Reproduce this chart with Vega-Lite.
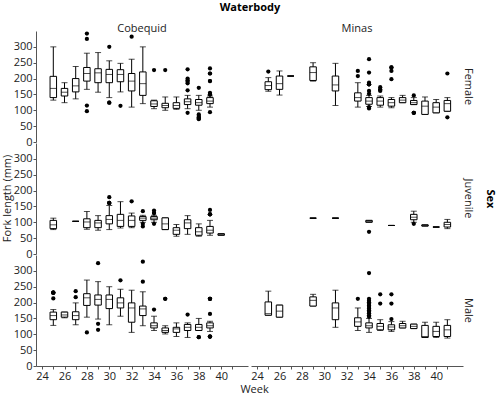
{
"$schema": "https://vega.github.io/schema/vega-lite/v6.json",
"background": "white",
"padding": {"left": 2, "top": 2, "right": 2, "bottom": 0},
"title": {"text": "Fork length (mm)", "orient": "left", "anchor": "middle", "fontSize": 11, "fontWeight": "normal", "color": "#222", "offset": 0},
"vconcat": [{
"title": {"text": "Week", "orient": "bottom", "anchor": "middle", "fontSize": 11, "fontWeight": "normal", "color": "#222", "offset": 3},
"data": {"values": [
{"t":"box","Waterbody":"Cobequid","Sex":"Female","Week":25,"lo":132,"q1":140,"med":169,"q3":207,"hi":300},
{"t":"box","Waterbody":"Cobequid","Sex":"Female","Week":26,"lo":124,"q1":145,"med":157,"q3":169,"hi":187},
{"t":"box","Waterbody":"Cobequid","Sex":"Female","Week":27,"lo":136,"q1":158,"med":177,"q3":200,"hi":238},
{"t":"box","Waterbody":"Cobequid","Sex":"Female","Week":28,"lo":166,"q1":192,"med":216,"q3":235,"hi":280},
{"t":"box","Waterbody":"Cobequid","Sex":"Female","Week":29,"lo":157,"q1":187,"med":218,"q3":231,"hi":282},
{"t":"box","Waterbody":"Cobequid","Sex":"Female","Week":30,"lo":140,"q1":187,"med":213,"q3":229,"hi":256},
{"t":"box","Waterbody":"Cobequid","Sex":"Female","Week":31,"lo":158,"q1":190,"med":213,"q3":228,"hi":248},
{"t":"box","Waterbody":"Cobequid","Sex":"Female","Week":32,"lo":110,"q1":161,"med":192,"q3":216,"hi":261},
{"t":"box","Waterbody":"Cobequid","Sex":"Female","Week":33,"lo":121,"q1":147,"med":184,"q3":221,"hi":300},
{"t":"box","Waterbody":"Cobequid","Sex":"Female","Week":34,"lo":105,"q1":112,"med":120,"q3":130,"hi":132},
{"t":"box","Waterbody":"Cobequid","Sex":"Female","Week":35,"lo":100,"q1":108,"med":115,"q3":122,"hi":142},
{"t":"box","Waterbody":"Cobequid","Sex":"Female","Week":36,"lo":103,"q1":106,"med":115,"q3":124,"hi":142},
{"t":"box","Waterbody":"Cobequid","Sex":"Female","Week":37,"lo":105,"q1":118,"med":127,"q3":136,"hi":147},
{"t":"box","Waterbody":"Cobequid","Sex":"Female","Week":38,"lo":100,"q1":116,"med":124,"q3":134,"hi":147},
{"t":"box","Waterbody":"Cobequid","Sex":"Female","Week":39,"lo":110,"q1":121,"med":129,"q3":140,"hi":145},
{"t":"out","Waterbody":"Cobequid","Sex":"Female","Week":28,"v":342},
{"t":"out","Waterbody":"Cobequid","Sex":"Female","Week":28,"v":325},
{"t":"out","Waterbody":"Cobequid","Sex":"Female","Week":28,"v":115},
{"t":"out","Waterbody":"Cobequid","Sex":"Female","Week":28,"v":97},
{"t":"out","Waterbody":"Cobequid","Sex":"Female","Week":30,"v":300},
{"t":"out","Waterbody":"Cobequid","Sex":"Female","Week":30,"v":124},
{"t":"out","Waterbody":"Cobequid","Sex":"Female","Week":30,"v":124},
{"t":"out","Waterbody":"Cobequid","Sex":"Female","Week":31,"v":114},
{"t":"out","Waterbody":"Cobequid","Sex":"Female","Week":32,"v":332},
{"t":"out","Waterbody":"Cobequid","Sex":"Female","Week":34,"v":227},
{"t":"out","Waterbody":"Cobequid","Sex":"Female","Week":35,"v":227},
{"t":"out","Waterbody":"Cobequid","Sex":"Female","Week":37,"v":229},
{"t":"out","Waterbody":"Cobequid","Sex":"Female","Week":37,"v":200},
{"t":"out","Waterbody":"Cobequid","Sex":"Female","Week":37,"v":195},
{"t":"out","Waterbody":"Cobequid","Sex":"Female","Week":37,"v":190},
{"t":"out","Waterbody":"Cobequid","Sex":"Female","Week":37,"v":185},
{"t":"out","Waterbody":"Cobequid","Sex":"Female","Week":37,"v":163},
{"t":"out","Waterbody":"Cobequid","Sex":"Female","Week":37,"v":92},
{"t":"out","Waterbody":"Cobequid","Sex":"Female","Week":38,"v":171},
{"t":"out","Waterbody":"Cobequid","Sex":"Female","Week":38,"v":87},
{"t":"out","Waterbody":"Cobequid","Sex":"Female","Week":38,"v":82},
{"t":"out","Waterbody":"Cobequid","Sex":"Female","Week":38,"v":78},
{"t":"out","Waterbody":"Cobequid","Sex":"Female","Week":38,"v":75},
{"t":"out","Waterbody":"Cobequid","Sex":"Female","Week":38,"v":72},
{"t":"out","Waterbody":"Cobequid","Sex":"Female","Week":39,"v":232},
{"t":"out","Waterbody":"Cobequid","Sex":"Female","Week":39,"v":216},
{"t":"out","Waterbody":"Cobequid","Sex":"Female","Week":39,"v":216},
{"t":"out","Waterbody":"Cobequid","Sex":"Female","Week":39,"v":192},
{"t":"out","Waterbody":"Cobequid","Sex":"Female","Week":39,"v":192},
{"t":"out","Waterbody":"Cobequid","Sex":"Female","Week":39,"v":155},
{"t":"out","Waterbody":"Cobequid","Sex":"Female","Week":39,"v":150},
{"t":"out","Waterbody":"Cobequid","Sex":"Female","Week":39,"v":150},
{"t":"out","Waterbody":"Cobequid","Sex":"Female","Week":39,"v":94},
{"t":"box","Waterbody":"Minas","Sex":"Female","Week":25,"lo":160,"q1":165,"med":178,"q3":190,"hi":203},
{"t":"box","Waterbody":"Minas","Sex":"Female","Week":26,"lo":148,"q1":166,"med":184,"q3":208,"hi":224},
{"t":"box","Waterbody":"Minas","Sex":"Female","Week":27,"lo":208,"q1":208,"med":208,"q3":208,"hi":208},
{"t":"box","Waterbody":"Minas","Sex":"Female","Week":29,"lo":192,"q1":194,"med":219,"q3":237,"hi":250},
{"t":"box","Waterbody":"Minas","Sex":"Female","Week":31,"lo":115,"q1":161,"med":180,"q3":208,"hi":248},
{"t":"box","Waterbody":"Minas","Sex":"Female","Week":33,"lo":110,"q1":129,"med":140,"q3":155,"hi":187},
{"t":"box","Waterbody":"Minas","Sex":"Female","Week":34,"lo":112,"q1":119,"med":129,"q3":140,"hi":147},
{"t":"box","Waterbody":"Minas","Sex":"Female","Week":35,"lo":110,"q1":116,"med":129,"q3":140,"hi":145},
{"t":"box","Waterbody":"Minas","Sex":"Female","Week":36,"lo":108,"q1":113,"med":124,"q3":134,"hi":140},
{"t":"box","Waterbody":"Minas","Sex":"Female","Week":37,"lo":124,"q1":124,"med":132,"q3":140,"hi":147},
{"t":"box","Waterbody":"Minas","Sex":"Female","Week":38,"lo":118,"q1":118,"med":124,"q3":131,"hi":140},
{"t":"box","Waterbody":"Minas","Sex":"Female","Week":39,"lo":87,"q1":87,"med":113,"q3":129,"hi":142},
{"t":"box","Waterbody":"Minas","Sex":"Female","Week":40,"lo":92,"q1":92,"med":110,"q3":124,"hi":134},
{"t":"box","Waterbody":"Minas","Sex":"Female","Week":41,"lo":97,"q1":97,"med":121,"q3":131,"hi":140},
{"t":"out","Waterbody":"Minas","Sex":"Female","Week":25,"v":222},
{"t":"out","Waterbody":"Minas","Sex":"Female","Week":33,"v":224},
{"t":"out","Waterbody":"Minas","Sex":"Female","Week":33,"v":208},
{"t":"out","Waterbody":"Minas","Sex":"Female","Week":34,"v":261},
{"t":"out","Waterbody":"Minas","Sex":"Female","Week":34,"v":219},
{"t":"out","Waterbody":"Minas","Sex":"Female","Week":34,"v":187},
{"t":"out","Waterbody":"Minas","Sex":"Female","Week":34,"v":182},
{"t":"out","Waterbody":"Minas","Sex":"Female","Week":34,"v":182},
{"t":"out","Waterbody":"Minas","Sex":"Female","Week":34,"v":182},
{"t":"out","Waterbody":"Minas","Sex":"Female","Week":34,"v":161},
{"t":"out","Waterbody":"Minas","Sex":"Female","Week":34,"v":152},
{"t":"out","Waterbody":"Minas","Sex":"Female","Week":34,"v":110},
{"t":"out","Waterbody":"Minas","Sex":"Female","Week":34,"v":106},
{"t":"out","Waterbody":"Minas","Sex":"Female","Week":35,"v":173},
{"t":"out","Waterbody":"Minas","Sex":"Female","Week":35,"v":165},
{"t":"out","Waterbody":"Minas","Sex":"Female","Week":35,"v":165},
{"t":"out","Waterbody":"Minas","Sex":"Female","Week":35,"v":161},
{"t":"out","Waterbody":"Minas","Sex":"Female","Week":36,"v":235},
{"t":"out","Waterbody":"Minas","Sex":"Female","Week":36,"v":235},
{"t":"out","Waterbody":"Minas","Sex":"Female","Week":36,"v":224},
{"t":"out","Waterbody":"Minas","Sex":"Female","Week":36,"v":198},
{"t":"out","Waterbody":"Minas","Sex":"Female","Week":38,"v":147},
{"t":"out","Waterbody":"Minas","Sex":"Female","Week":38,"v":92},
{"t":"out","Waterbody":"Minas","Sex":"Female","Week":38,"v":92},
{"t":"out","Waterbody":"Minas","Sex":"Female","Week":38,"v":92},
{"t":"out","Waterbody":"Minas","Sex":"Female","Week":41,"v":216},
{"t":"out","Waterbody":"Minas","Sex":"Female","Week":41,"v":78},
{"t":"box","Waterbody":"Cobequid","Sex":"Juvenile","Week":25,"lo":77,"q1":80,"med":92,"q3":106,"hi":113},
{"t":"box","Waterbody":"Cobequid","Sex":"Juvenile","Week":27,"lo":103,"q1":103,"med":103,"q3":103,"hi":103},
{"t":"box","Waterbody":"Cobequid","Sex":"Juvenile","Week":28,"lo":78,"q1":83,"med":101,"q3":111,"hi":134},
{"t":"box","Waterbody":"Cobequid","Sex":"Juvenile","Week":29,"lo":75,"q1":83,"med":98,"q3":106,"hi":121},
{"t":"box","Waterbody":"Cobequid","Sex":"Juvenile","Week":30,"lo":77,"q1":95,"med":109,"q3":121,"hi":153},
{"t":"box","Waterbody":"Cobequid","Sex":"Juvenile","Week":31,"lo":82,"q1":87,"med":106,"q3":125,"hi":165},
{"t":"box","Waterbody":"Cobequid","Sex":"Juvenile","Week":32,"lo":83,"q1":87,"med":106,"q3":120,"hi":129},
{"t":"box","Waterbody":"Cobequid","Sex":"Juvenile","Week":33,"lo":100,"q1":106,"med":113,"q3":118,"hi":122},
{"t":"box","Waterbody":"Cobequid","Sex":"Juvenile","Week":34,"lo":100,"q1":108,"med":113,"q3":118,"hi":122},
{"t":"box","Waterbody":"Cobequid","Sex":"Juvenile","Week":35,"lo":77,"q1":77,"med":95,"q3":114,"hi":114},
{"t":"box","Waterbody":"Cobequid","Sex":"Juvenile","Week":36,"lo":56,"q1":62,"med":75,"q3":83,"hi":93},
{"t":"box","Waterbody":"Cobequid","Sex":"Juvenile","Week":37,"lo":62,"q1":80,"med":98,"q3":108,"hi":121},
{"t":"box","Waterbody":"Cobequid","Sex":"Juvenile","Week":38,"lo":56,"q1":59,"med":70,"q3":83,"hi":95},
{"t":"box","Waterbody":"Cobequid","Sex":"Juvenile","Week":39,"lo":59,"q1":66,"med":75,"q3":87,"hi":106},
{"t":"box","Waterbody":"Cobequid","Sex":"Juvenile","Week":40,"lo":59,"q1":59,"med":62,"q3":64,"hi":64},
{"t":"out","Waterbody":"Cobequid","Sex":"Juvenile","Week":30,"v":179},
{"t":"out","Waterbody":"Cobequid","Sex":"Juvenile","Week":30,"v":161},
{"t":"out","Waterbody":"Cobequid","Sex":"Juvenile","Week":30,"v":161},
{"t":"out","Waterbody":"Cobequid","Sex":"Juvenile","Week":30,"v":161},
{"t":"out","Waterbody":"Cobequid","Sex":"Juvenile","Week":32,"v":166},
{"t":"out","Waterbody":"Cobequid","Sex":"Juvenile","Week":33,"v":135},
{"t":"out","Waterbody":"Cobequid","Sex":"Juvenile","Week":33,"v":95},
{"t":"out","Waterbody":"Cobequid","Sex":"Juvenile","Week":33,"v":87},
{"t":"out","Waterbody":"Cobequid","Sex":"Juvenile","Week":34,"v":137},
{"t":"out","Waterbody":"Cobequid","Sex":"Juvenile","Week":34,"v":129},
{"t":"out","Waterbody":"Cobequid","Sex":"Juvenile","Week":34,"v":129},
{"t":"out","Waterbody":"Cobequid","Sex":"Juvenile","Week":34,"v":95},
{"t":"out","Waterbody":"Cobequid","Sex":"Juvenile","Week":39,"v":139},
{"t":"out","Waterbody":"Cobequid","Sex":"Juvenile","Week":39,"v":125},
{"t":"out","Waterbody":"Cobequid","Sex":"Juvenile","Week":39,"v":125},
{"t":"out","Waterbody":"Cobequid","Sex":"Juvenile","Week":39,"v":125},
{"t":"box","Waterbody":"Minas","Sex":"Juvenile","Week":29,"lo":113,"q1":113,"med":113,"q3":113,"hi":113},
{"t":"box","Waterbody":"Minas","Sex":"Juvenile","Week":31,"lo":113,"q1":113,"med":113,"q3":113,"hi":113},
{"t":"box","Waterbody":"Minas","Sex":"Juvenile","Week":34,"lo":100,"q1":100,"med":103,"q3":106,"hi":106},
{"t":"box","Waterbody":"Minas","Sex":"Juvenile","Week":36,"lo":90,"q1":90,"med":90,"q3":90,"hi":90},
{"t":"box","Waterbody":"Minas","Sex":"Juvenile","Week":38,"lo":100,"q1":108,"med":116,"q3":125,"hi":135},
{"t":"box","Waterbody":"Minas","Sex":"Juvenile","Week":39,"lo":88,"q1":88,"med":90,"q3":92,"hi":92},
{"t":"box","Waterbody":"Minas","Sex":"Juvenile","Week":40,"lo":85,"q1":85,"med":85,"q3":85,"hi":85},
{"t":"box","Waterbody":"Minas","Sex":"Juvenile","Week":41,"lo":80,"q1":85,"med":93,"q3":100,"hi":109},
{"t":"out","Waterbody":"Minas","Sex":"Juvenile","Week":34,"v":70},
{"t":"out","Waterbody":"Minas","Sex":"Juvenile","Week":38,"v":95},
{"t":"box","Waterbody":"Cobequid","Sex":"Male","Week":25,"lo":128,"q1":146,"med":159,"q3":170,"hi":178},
{"t":"box","Waterbody":"Cobequid","Sex":"Male","Week":26,"lo":152,"q1":154,"med":161,"q3":170,"hi":170},
{"t":"box","Waterbody":"Cobequid","Sex":"Male","Week":27,"lo":130,"q1":146,"med":159,"q3":171,"hi":199},
{"t":"box","Waterbody":"Cobequid","Sex":"Male","Week":28,"lo":154,"q1":191,"med":215,"q3":228,"hi":271},
{"t":"box","Waterbody":"Cobequid","Sex":"Male","Week":29,"lo":148,"q1":192,"med":210,"q3":224,"hi":266},
{"t":"box","Waterbody":"Cobequid","Sex":"Male","Week":30,"lo":130,"q1":181,"med":210,"q3":224,"hi":250},
{"t":"box","Waterbody":"Cobequid","Sex":"Male","Week":31,"lo":157,"q1":183,"med":199,"q3":215,"hi":242},
{"t":"box","Waterbody":"Cobequid","Sex":"Male","Week":32,"lo":106,"q1":138,"med":183,"q3":199,"hi":239},
{"t":"box","Waterbody":"Cobequid","Sex":"Male","Week":33,"lo":127,"q1":159,"med":180,"q3":189,"hi":234},
{"t":"box","Waterbody":"Cobequid","Sex":"Male","Week":34,"lo":112,"q1":120,"med":127,"q3":136,"hi":157},
{"t":"box","Waterbody":"Cobequid","Sex":"Male","Week":35,"lo":101,"q1":106,"med":112,"q3":120,"hi":127},
{"t":"box","Waterbody":"Cobequid","Sex":"Male","Week":36,"lo":93,"q1":106,"med":117,"q3":122,"hi":136},
{"t":"box","Waterbody":"Cobequid","Sex":"Male","Week":37,"lo":90,"q1":112,"med":122,"q3":131,"hi":136},
{"t":"box","Waterbody":"Cobequid","Sex":"Male","Week":38,"lo":112,"q1":112,"med":122,"q3":131,"hi":150},
{"t":"box","Waterbody":"Cobequid","Sex":"Male","Week":39,"lo":109,"q1":120,"med":127,"q3":136,"hi":141},
{"t":"out","Waterbody":"Cobequid","Sex":"Male","Week":25,"v":231},
{"t":"out","Waterbody":"Cobequid","Sex":"Male","Week":25,"v":231},
{"t":"out","Waterbody":"Cobequid","Sex":"Male","Week":25,"v":231},
{"t":"out","Waterbody":"Cobequid","Sex":"Male","Week":25,"v":231},
{"t":"out","Waterbody":"Cobequid","Sex":"Male","Week":25,"v":213},
{"t":"out","Waterbody":"Cobequid","Sex":"Male","Week":27,"v":236},
{"t":"out","Waterbody":"Cobequid","Sex":"Male","Week":27,"v":217},
{"t":"out","Waterbody":"Cobequid","Sex":"Male","Week":28,"v":106},
{"t":"out","Waterbody":"Cobequid","Sex":"Male","Week":29,"v":324},
{"t":"out","Waterbody":"Cobequid","Sex":"Male","Week":29,"v":133},
{"t":"out","Waterbody":"Cobequid","Sex":"Male","Week":29,"v":114},
{"t":"out","Waterbody":"Cobequid","Sex":"Male","Week":31,"v":270},
{"t":"out","Waterbody":"Cobequid","Sex":"Male","Week":33,"v":329},
{"t":"out","Waterbody":"Cobequid","Sex":"Male","Week":33,"v":266},
{"t":"out","Waterbody":"Cobequid","Sex":"Male","Week":34,"v":178},
{"t":"out","Waterbody":"Cobequid","Sex":"Male","Week":35,"v":212},
{"t":"out","Waterbody":"Cobequid","Sex":"Male","Week":35,"v":212},
{"t":"out","Waterbody":"Cobequid","Sex":"Male","Week":37,"v":162},
{"t":"out","Waterbody":"Cobequid","Sex":"Male","Week":38,"v":91},
{"t":"out","Waterbody":"Cobequid","Sex":"Male","Week":38,"v":91},
{"t":"out","Waterbody":"Cobequid","Sex":"Male","Week":39,"v":212},
{"t":"out","Waterbody":"Cobequid","Sex":"Male","Week":39,"v":212},
{"t":"out","Waterbody":"Cobequid","Sex":"Male","Week":39,"v":212},
{"t":"out","Waterbody":"Cobequid","Sex":"Male","Week":39,"v":212},
{"t":"out","Waterbody":"Cobequid","Sex":"Male","Week":39,"v":164},
{"t":"out","Waterbody":"Cobequid","Sex":"Male","Week":39,"v":93},
{"t":"out","Waterbody":"Cobequid","Sex":"Male","Week":39,"v":93},
{"t":"out","Waterbody":"Cobequid","Sex":"Male","Week":39,"v":93},
{"t":"out","Waterbody":"Cobequid","Sex":"Male","Week":39,"v":93},
{"t":"box","Waterbody":"Minas","Sex":"Male","Week":25,"lo":160,"q1":160,"med":165,"q3":202,"hi":236},
{"t":"box","Waterbody":"Minas","Sex":"Male","Week":26,"lo":154,"q1":154,"med":173,"q3":192,"hi":192},
{"t":"box","Waterbody":"Minas","Sex":"Male","Week":29,"lo":189,"q1":189,"med":207,"q3":218,"hi":226},
{"t":"box","Waterbody":"Minas","Sex":"Male","Week":31,"lo":122,"q1":146,"med":183,"q3":199,"hi":239},
{"t":"box","Waterbody":"Minas","Sex":"Male","Week":33,"lo":112,"q1":125,"med":139,"q3":152,"hi":183},
{"t":"box","Waterbody":"Minas","Sex":"Male","Week":34,"lo":106,"q1":120,"med":127,"q3":136,"hi":150},
{"t":"box","Waterbody":"Minas","Sex":"Male","Week":35,"lo":112,"q1":114,"med":125,"q3":134,"hi":146},
{"t":"box","Waterbody":"Minas","Sex":"Male","Week":36,"lo":109,"q1":114,"med":123,"q3":130,"hi":140},
{"t":"box","Waterbody":"Minas","Sex":"Male","Week":37,"lo":120,"q1":120,"med":127,"q3":134,"hi":141},
{"t":"box","Waterbody":"Minas","Sex":"Male","Week":38,"lo":118,"q1":118,"med":125,"q3":132,"hi":132},
{"t":"box","Waterbody":"Minas","Sex":"Male","Week":39,"lo":90,"q1":90,"med":93,"q3":128,"hi":138},
{"t":"box","Waterbody":"Minas","Sex":"Male","Week":40,"lo":90,"q1":93,"med":109,"q3":125,"hi":138},
{"t":"box","Waterbody":"Minas","Sex":"Male","Week":41,"lo":88,"q1":93,"med":114,"q3":128,"hi":146},
{"t":"out","Waterbody":"Minas","Sex":"Male","Week":33,"v":212},
{"t":"out","Waterbody":"Minas","Sex":"Male","Week":34,"v":293},
{"t":"out","Waterbody":"Minas","Sex":"Male","Week":34,"v":212},
{"t":"out","Waterbody":"Minas","Sex":"Male","Week":34,"v":206},
{"t":"out","Waterbody":"Minas","Sex":"Male","Week":34,"v":201},
{"t":"out","Waterbody":"Minas","Sex":"Male","Week":34,"v":196},
{"t":"out","Waterbody":"Minas","Sex":"Male","Week":34,"v":191},
{"t":"out","Waterbody":"Minas","Sex":"Male","Week":34,"v":186},
{"t":"out","Waterbody":"Minas","Sex":"Male","Week":34,"v":181},
{"t":"out","Waterbody":"Minas","Sex":"Male","Week":34,"v":176},
{"t":"out","Waterbody":"Minas","Sex":"Male","Week":34,"v":171},
{"t":"out","Waterbody":"Minas","Sex":"Male","Week":34,"v":166},
{"t":"out","Waterbody":"Minas","Sex":"Male","Week":34,"v":160},
{"t":"out","Waterbody":"Minas","Sex":"Male","Week":34,"v":155},
{"t":"out","Waterbody":"Minas","Sex":"Male","Week":35,"v":226},
{"t":"out","Waterbody":"Minas","Sex":"Male","Week":35,"v":197},
{"t":"out","Waterbody":"Minas","Sex":"Male","Week":36,"v":226},
{"t":"out","Waterbody":"Minas","Sex":"Male","Week":36,"v":197},
{"t":"out","Waterbody":"Minas","Sex":"Male","Week":36,"v":148}
]},
"facet": {
  "column": {"field": "Waterbody", "type": "nominal", "title": "Waterbody",
    "header": {"labelFontSize": 11, "titleFontSize": 11, "titleFontWeight": "bold", "labelPadding": -3, "titlePadding": 0}},
  "row": {"field": "Sex", "type": "nominal", "title": "Sex",
    "header": {"labelOrient": "right", "labelAngle": 90, "titleOrient": "right", "titleAngle": 90, "labelFontSize": 11, "titleFontSize": 11, "titleFontWeight": "bold", "labelPadding": 0, "titlePadding": 1}}
},
"spacing": {"row": 1, "column": 3},
"spec": {
  "width": 212,
  "height": 111,
  "encoding": {
    "x": {"field": "Week", "type": "quantitative", "title": null,
      "scale": {"domain": [23.9, 41.95], "nice": false, "zero": false},
      "axis": {"values": [24,25,26,27,28,29,30,31,32,33,34,35,36,37,38,39,40,41], "labelExpr": "datum.value % 2 == 0 ? datum.label : ''", "labelFlush": false}}
  },
  "layer": [
    {
      "transform": [{"aggregate": [{"op": "count", "as": "n"}], "groupby": ["Waterbody", "Sex"]}],
      "mark": {"type": "rule", "color": "#c8c8c8", "strokeWidth": 1},
      "encoding": {"x": {"datum": 23.9, "type": "quantitative"}}
    },
    {
      "transform": [{"aggregate": [{"op": "count", "as": "n"}], "groupby": ["Waterbody", "Sex"]}],
      "mark": {"type": "rule", "color": "#c8c8c8", "strokeWidth": 1},
      "encoding": {"y": {"datum": 0, "type": "quantitative", "title": null, "scale": {"domain": [0, 350], "nice": false}, "axis": {"values": [0,50,100,150,200,250,300]}}}
    },
    {
      "transform": [{"filter": "datum.t == 'box'"}],
      "mark": {"type": "rule", "color": "black", "strokeWidth": 1},
      "encoding": {
        "y": {"field": "lo", "type": "quantitative", "title": null, "scale": {"domain": [0, 350], "nice": false}, "axis": {"values": [0,50,100,150,200,250,300]}},
        "y2": {"field": "hi"}
      }
    },
    {
      "transform": [{"filter": "datum.t == 'box'"}],
      "mark": {"type": "tick", "orient": "horizontal", "color": "black", "size": 6, "thickness": 1},
      "encoding": {"y": {"field": "lo", "type": "quantitative", "title": null, "scale": {"domain": [0, 350], "nice": false}, "axis": {"values": [0,50,100,150,200,250,300]}}}
    },
    {
      "transform": [{"filter": "datum.t == 'box'"}],
      "mark": {"type": "tick", "orient": "horizontal", "color": "black", "size": 6, "thickness": 1},
      "encoding": {"y": {"field": "hi", "type": "quantitative", "title": null, "scale": {"domain": [0, 350], "nice": false}, "axis": {"values": [0,50,100,150,200,250,300]}}}
    },
    {
      "transform": [{"filter": "datum.t == 'box'"}],
      "mark": {"type": "bar", "size": 6.5, "fill": "white", "stroke": "black", "strokeWidth": 1},
      "encoding": {"y": {"field": "q1", "type": "quantitative", "title": null, "scale": {"domain": [0, 350], "nice": false}, "axis": {"values": [0,50,100,150,200,250,300]}}, "y2": {"field": "q3"}}
    },
    {
      "transform": [{"filter": "datum.t == 'box'"}],
      "mark": {"type": "tick", "orient": "horizontal", "color": "black", "size": 6.5, "thickness": 1},
      "encoding": {"y": {"field": "med", "type": "quantitative", "title": null, "scale": {"domain": [0, 350], "nice": false}, "axis": {"values": [0,50,100,150,200,250,300]}}}
    },
    {
      "transform": [
        {"filter": "datum.t == 'out'"},
        {"window": [{"op": "row_number", "as": "k"}, {"op": "count", "as": "n"}], "groupby": ["Waterbody", "Sex", "Week", "v"], "frame": [null, null]},
        {"calculate": "datum.k - (datum.n + 1) / 2", "as": "off"}
      ],
      "mark": {"type": "point", "filled": true, "color": "black", "size": 18, "opacity": 1},
      "encoding": {
        "y": {"field": "v", "type": "quantitative", "title": null, "scale": {"domain": [0, 350], "nice": false}, "axis": {"values": [0,50,100,150,200,250,300]}},
        "xOffset": {"field": "off", "type": "quantitative", "scale": {"domain": [-2, 2], "range": [-10, 10]}}
      }
    }
  ]
}
}],
"config": {
  "font": "Open Sans",
  "view": {"stroke": null},
  "concat": {"spacing": 0},
  "axis": {"grid": false, "domainColor": "#555", "tickColor": "#555", "labelColor": "#222", "titleColor": "#222", "labelFontSize": 11, "titleFontSize": 11, "titleFontWeight": "normal", "tickSize": 3, "labelPadding": 1, "zindex": 1},
  "header": {"labelColor": "#222", "titleColor": "#000"}
}
}
